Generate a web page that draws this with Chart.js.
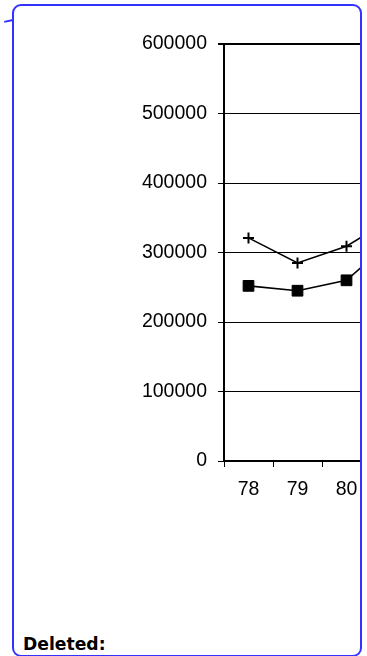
<!DOCTYPE html>
<html>
<head>
<meta charset="utf-8">
<script src="https://cdn.jsdelivr.net/npm/chart.js@4"></script>
<style>
  html, body { margin: 0; padding: 0; background: #fff; width: 367px; height: 656px; overflow: hidden; }
  #balloon {
    position: absolute; left: 12px; top: 4px; width: 346px; height: 649px;
    border: 2px solid #3333ff; border-radius: 9px; overflow: hidden; background: #fff;
  }
  #connector { position: absolute; left: 4px; top: 19px; width: 9px; height: 1.5px; background: #3333ff; transform: rotate(-12deg); transform-origin: right center; }
  #chartWrap { position: absolute; left: -14px; top: -6px; width: 430px; height: 521px; }
  #label { position: absolute; left: 9px; top: 628px; font: bold 17.2px "DejaVu Sans", sans-serif; color: #000; }
</style>
</head>
<body>
<div id="connector"></div>
<div id="balloon">
  <div id="chartWrap"><canvas id="c" width="430" height="521"></canvas></div>
  <div id="label">Deleted:</div>
</div>
<script>
// Years on the category axis
const years = ['78', '79', '80', '81'];
// Upper series (cross markers)
const seriesCross = [321000, 285000, 309000, 352000];
// Lower series (filled square markers)
const seriesSquare = [252000, 245000, 260000, 322000];
// Value axis ticks
const yTicks = [0, 100000, 200000, 300000, 400000, 500000, 600000];

const FONT = { family: '"Liberation Sans", Arial, sans-serif', size: 19.5 };

new Chart(document.getElementById('c'), {
  type: 'line',
  data: {
    labels: years,
    datasets: [
      {
        data: seriesCross,
        borderColor: '#000', borderWidth: 1.6,
        pointStyle: 'cross', pointRadius: 5.5, pointBorderWidth: 2,
        pointBorderColor: '#000', pointBackgroundColor: '#000',
        tension: 0
      },
      {
        data: seriesSquare,
        borderColor: '#000', borderWidth: 1.6,
        pointStyle: 'rect', pointRadius: 7.6, pointBorderWidth: 1,
        pointBorderColor: '#000', pointBackgroundColor: '#000',
        tension: 0
      }
    ]
  },
  options: {
    responsive: false,
    animation: false,
    devicePixelRatio: 1,
    layout: { padding: { left: 0, right: 10, top: 44, bottom: 0 } },
    plugins: { legend: { display: false }, tooltip: { enabled: false } },
    scales: {
      x: {
        type: 'category',
        offset: true,
        afterFit: s => { s.height = 60; },
        border: { display: true, color: '#000', width: 2 },
        grid: { offset: true, drawOnChartArea: false, drawTicks: true, tickLength: 6, color: '#000', lineWidth: 1 },
        ticks: { color: '#000', font: FONT, padding: 11, maxRotation: 0 }
      },
      y: {
        min: 0, max: 600000,
        afterBuildTicks: s => { s.ticks = yTicks.map(v => ({ value: v })); },
        afterFit: s => { s.width = 224; },
        border: { display: true, color: '#000', width: 2 },
        grid: {
          color: '#000',
          lineWidth: ctx => (ctx.tick && ctx.tick.value === 600000 ? 2 : 1),
          tickLength: 6, drawTicks: true
        },
        ticks: { color: '#000', font: FONT, padding: 11, callback: v => String(v) }
      }
    }
  }
});
</script>
</body>
</html>
